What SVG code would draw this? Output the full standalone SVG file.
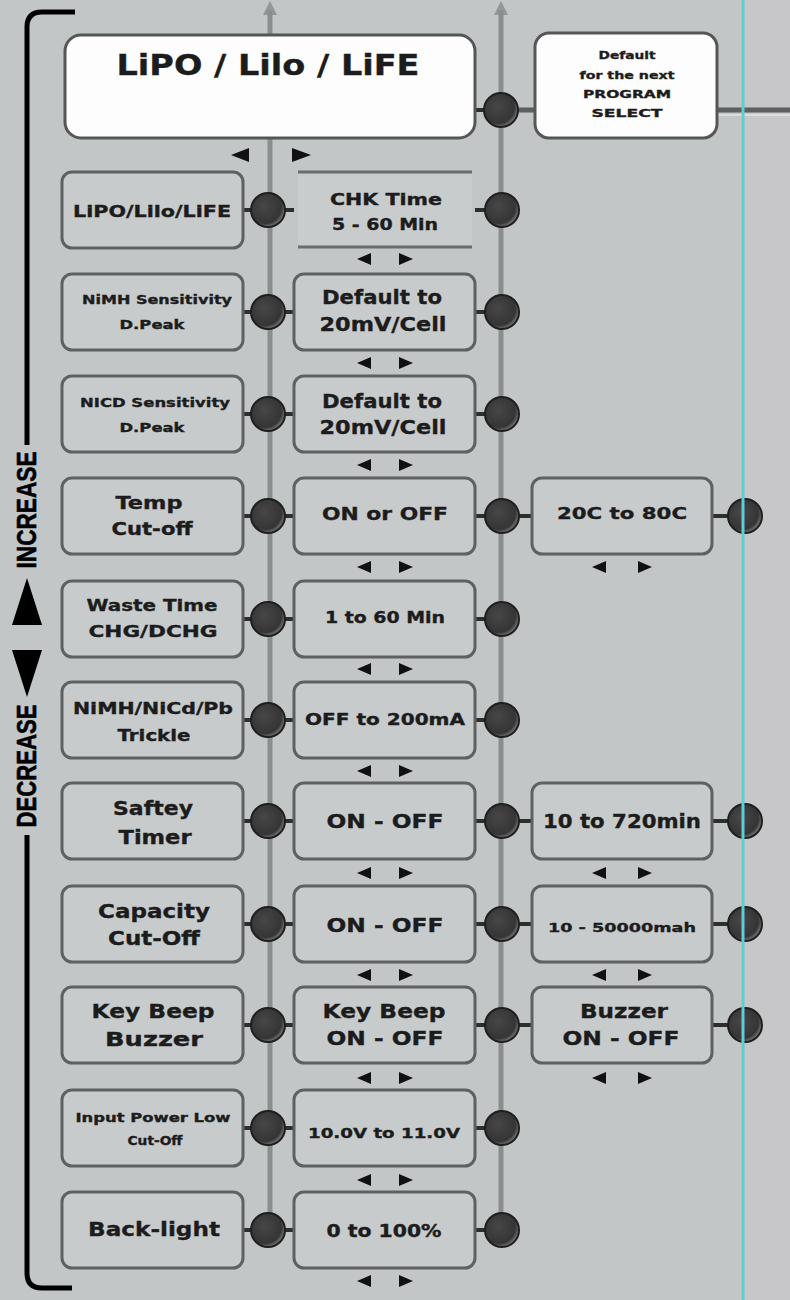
<svg xmlns="http://www.w3.org/2000/svg" width="790" height="1300" viewBox="0 0 790 1300">
<style>
.box{fill:#c8cbcc;stroke:#5e6061;stroke-width:3}
.wbox{fill:#fdfdfd;stroke:#555757;stroke-width:3}
.t{font-family:"DejaVu Sans","Liberation Sans",sans-serif;font-weight:bold;fill:#1c1c1c;stroke:#1c1c1c;stroke-width:0.35;text-anchor:middle}
.side{font-family:"Liberation Sans","DejaVu Sans",sans-serif;font-weight:bold;fill:#000;stroke:#000;stroke-width:0.6;text-anchor:middle}
.vline{stroke:#8b8e8f;stroke-width:5;fill:none}
.nub{stroke:#2e2e2e;stroke-width:4}
.jn{fill:url(#jg);stroke:#1f1f1f;stroke-width:2}
.ar{fill:#111}
</style>
<defs>
<radialGradient id="jg" cx="0.42" cy="0.42" r="0.62" fx="0.38" fy="0.38">
<stop offset="0" stop-color="#474747"/>
<stop offset="0.78" stop-color="#353535"/>
<stop offset="1" stop-color="#8a8a8a"/>
</radialGradient>
</defs>
<rect x="0" y="0" width="790" height="1300" fill="#c2c6c7"/>
<rect x="745" y="0" width="45" height="1300" fill="#c7c7ca"/>

<g id="bracket">
<path d="M75 12 H42 Q27 12 27 27 V445" fill="none" stroke="#000" stroke-width="5"/>
<path d="M27 835 V1273 Q27 1288 42 1288 H72" fill="none" stroke="#000" stroke-width="5"/>
<text class="side" font-size="28" textLength="117" lengthAdjust="spacingAndGlyphs" transform="translate(36,510) rotate(-90)">INCREASE</text>
<polygon points="27,578 12,625 42,625" fill="#000"/>
<polygon points="12,650 42,650 27,697" fill="#000"/>
<text class="side" font-size="28" textLength="123" lengthAdjust="spacingAndGlyphs" transform="translate(36,766) rotate(-90)">DECREASE</text>
</g>

<g id="connectors">
<line class="vline" x1="270" y1="10" x2="270" y2="1230"/>
<line class="vline" x1="501" y1="10" x2="501" y2="1230"/>
<polygon points="270,1 263,15 277,15" fill="#8b8e8f" opacity="0.85"/>
<polygon points="501,1 494,15 508,15" fill="#8b8e8f" opacity="0.85"/>
<line x1="518" y1="110" x2="790" y2="110" stroke="#5d5f60" stroke-width="5"/>
<line x1="717" y1="115" x2="790" y2="115" stroke="#e2e4e4" stroke-width="1.5"/>
<line class="nub" x1="475" y1="110" x2="485" y2="110"/>
<g>
<line class="nub" x1="243" y1="210" x2="252" y2="210"/><line class="nub" x1="284" y1="210" x2="294" y2="210"/><line class="nub" x1="475" y1="210" x2="486" y2="210"/>
<line class="nub" x1="243" y1="312" x2="252" y2="312"/><line class="nub" x1="284" y1="312" x2="294" y2="312"/><line class="nub" x1="475" y1="312" x2="486" y2="312"/>
<line class="nub" x1="243" y1="414" x2="252" y2="414"/><line class="nub" x1="284" y1="414" x2="294" y2="414"/><line class="nub" x1="475" y1="414" x2="486" y2="414"/>
<line class="nub" x1="243" y1="516" x2="252" y2="516"/><line class="nub" x1="284" y1="516" x2="294" y2="516"/><line class="nub" x1="475" y1="516" x2="486" y2="516"/><line class="nub" x1="516" y1="516" x2="532" y2="516"/><line class="nub" x1="712" y1="516" x2="730" y2="516"/>
<line class="nub" x1="243" y1="619" x2="252" y2="619"/><line class="nub" x1="284" y1="619" x2="294" y2="619"/><line class="nub" x1="475" y1="619" x2="486" y2="619"/>
<line class="nub" x1="243" y1="720" x2="252" y2="720"/><line class="nub" x1="284" y1="720" x2="294" y2="720"/><line class="nub" x1="475" y1="720" x2="486" y2="720"/>
<line class="nub" x1="243" y1="821" x2="252" y2="821"/><line class="nub" x1="284" y1="821" x2="294" y2="821"/><line class="nub" x1="475" y1="821" x2="486" y2="821"/><line class="nub" x1="516" y1="821" x2="532" y2="821"/><line class="nub" x1="712" y1="821" x2="730" y2="821"/>
<line class="nub" x1="243" y1="924" x2="252" y2="924"/><line class="nub" x1="284" y1="924" x2="294" y2="924"/><line class="nub" x1="475" y1="924" x2="486" y2="924"/><line class="nub" x1="516" y1="924" x2="532" y2="924"/><line class="nub" x1="712" y1="924" x2="730" y2="924"/>
<line class="nub" x1="243" y1="1025" x2="252" y2="1025"/><line class="nub" x1="284" y1="1025" x2="294" y2="1025"/><line class="nub" x1="475" y1="1025" x2="486" y2="1025"/><line class="nub" x1="516" y1="1025" x2="532" y2="1025"/><line class="nub" x1="712" y1="1025" x2="730" y2="1025"/>
<line class="nub" x1="243" y1="1128" x2="252" y2="1128"/><line class="nub" x1="284" y1="1128" x2="294" y2="1128"/><line class="nub" x1="475" y1="1128" x2="486" y2="1128"/>
<line class="nub" x1="243" y1="1230" x2="252" y2="1230"/><line class="nub" x1="284" y1="1230" x2="294" y2="1230"/><line class="nub" x1="475" y1="1230" x2="486" y2="1230"/>
</g>
</g>

<g id="junctions">
<circle class="jn" cx="501" cy="110" r="17"/>
<circle class="jn" cx="268" cy="210" r="17"/><circle class="jn" cx="502" cy="210" r="17"/>
<circle class="jn" cx="268" cy="312" r="17"/><circle class="jn" cx="502" cy="312" r="17"/>
<circle class="jn" cx="268" cy="414" r="17"/><circle class="jn" cx="502" cy="414" r="17"/>
<circle class="jn" cx="268" cy="516" r="17"/><circle class="jn" cx="502" cy="516" r="17"/><circle class="jn" cx="745" cy="516" r="17"/>
<circle class="jn" cx="268" cy="619" r="17"/><circle class="jn" cx="502" cy="619" r="17"/>
<circle class="jn" cx="268" cy="720" r="17"/><circle class="jn" cx="502" cy="720" r="17"/>
<circle class="jn" cx="268" cy="821" r="17"/><circle class="jn" cx="502" cy="821" r="17"/><circle class="jn" cx="745" cy="821" r="17"/>
<circle class="jn" cx="268" cy="924" r="17"/><circle class="jn" cx="502" cy="924" r="17"/><circle class="jn" cx="745" cy="924" r="17"/>
<circle class="jn" cx="268" cy="1025" r="17"/><circle class="jn" cx="502" cy="1025" r="17"/><circle class="jn" cx="745" cy="1025" r="17"/>
<circle class="jn" cx="268" cy="1128" r="17"/><circle class="jn" cx="502" cy="1128" r="17"/>
<circle class="jn" cx="268" cy="1230" r="17"/><circle class="jn" cx="502" cy="1230" r="17"/>
</g>

<line id="cyan-line" x1="743" y1="0" x2="743" y2="1300" stroke="#5fcdd4" stroke-width="3"/>

<g id="arrows">
<polygon class="ar" points="231,155 249,148 249,162"/><polygon class="ar" points="292,148 292,162 311,155"/>
<polygon class="ar" points="357,259 371,253 371,265"/><polygon class="ar" points="399,253 399,265 413,259"/>
<polygon class="ar" points="357,363 371,357 371,369"/><polygon class="ar" points="399,357 399,369 413,363"/>
<polygon class="ar" points="357,465 371,459 371,471"/><polygon class="ar" points="399,459 399,471 413,465"/>
<polygon class="ar" points="357,567 371,561 371,573"/><polygon class="ar" points="399,561 399,573 413,567"/>
<polygon class="ar" points="357,669 371,663 371,675"/><polygon class="ar" points="399,663 399,675 413,669"/>
<polygon class="ar" points="357,771 371,765 371,777"/><polygon class="ar" points="399,765 399,777 413,771"/>
<polygon class="ar" points="357,873 371,867 371,879"/><polygon class="ar" points="399,867 399,879 413,873"/>
<polygon class="ar" points="357,975 371,969 371,981"/><polygon class="ar" points="399,969 399,981 413,975"/>
<polygon class="ar" points="357,1078 371,1072 371,1084"/><polygon class="ar" points="399,1072 399,1084 413,1078"/>
<polygon class="ar" points="357,1180 371,1174 371,1186"/><polygon class="ar" points="399,1174 399,1186 413,1180"/>
<polygon class="ar" points="357,1281 371,1275 371,1287"/><polygon class="ar" points="399,1275 399,1287 413,1281"/>
<polygon class="ar" points="592,567 606,561 606,573"/><polygon class="ar" points="638,561 638,573 652,567"/>
<polygon class="ar" points="592,873 606,867 606,879"/><polygon class="ar" points="638,867 638,879 652,873"/>
<polygon class="ar" points="592,975 606,969 606,981"/><polygon class="ar" points="638,969 638,981 652,975"/>
<polygon class="ar" points="592,1078 606,1072 606,1084"/><polygon class="ar" points="638,1072 638,1084 652,1078"/>
</g>

<g id="node-main">
<rect class="wbox" x="65" y="35" width="410" height="103" rx="16"/>
<text class="t" x="268" y="75" font-size="29" textLength="303" lengthAdjust="spacingAndGlyphs">LiPO / Lilo / LiFE</text>
</g>
<g id="node-default">
<rect class="wbox" x="535" y="33" width="182" height="105" rx="14"/>
<text class="t" x="627" y="59" font-size="11" textLength="57" lengthAdjust="spacingAndGlyphs">Default</text>
<text class="t" x="627" y="79" font-size="11" textLength="95" lengthAdjust="spacingAndGlyphs">for the next</text>
<text class="t" x="627" y="98" font-size="11" textLength="88" lengthAdjust="spacingAndGlyphs">PROGRAM</text>
<text class="t" x="627" y="117" font-size="11" textLength="71" lengthAdjust="spacingAndGlyphs">SELECT</text>
</g>

<g id="node-lipo">
<rect class="box" x="62" y="172" width="181" height="76" rx="10"/>
<text class="t" x="152" y="217" font-size="16" textLength="158" lengthAdjust="spacingAndGlyphs">LiPO/Lilo/LiFE</text>
</g>
<g id="node-chk">
<rect x="298" y="172" width="174" height="75" fill="#c9cccd"/>
<line x1="298" y1="172" x2="472" y2="172" stroke="#6a6c6d" stroke-width="3"/>
<line x1="298" y1="247" x2="472" y2="247" stroke="#6a6c6d" stroke-width="3"/>
<text class="t" x="386" y="205" font-size="15" textLength="112" lengthAdjust="spacingAndGlyphs">CHK Time</text>
<text class="t" x="385" y="230" font-size="15" textLength="106" lengthAdjust="spacingAndGlyphs">5 - 60 Min</text>
</g>

<g id="node-nimh">
<rect class="box" x="62" y="274" width="181" height="76" rx="10"/>
<text class="t" x="157" y="303.5" font-size="12.5" textLength="150" lengthAdjust="spacingAndGlyphs">NiMH Sensitivity</text>
<text class="t" x="152" y="328.5" font-size="12.5" textLength="65" lengthAdjust="spacingAndGlyphs">D.Peak</text>
</g>
<g id="node-nimh-val">
<rect class="box" x="294" y="274" width="181" height="76" rx="10"/>
<text class="t" x="382" y="304" font-size="20" textLength="120" lengthAdjust="spacingAndGlyphs">Default to</text>
<text class="t" x="383" y="331" font-size="20" textLength="127" lengthAdjust="spacingAndGlyphs">20mV/Cell</text>
</g>

<g id="node-nicd">
<rect class="box" x="62" y="376" width="181" height="76" rx="10"/>
<text class="t" x="155" y="406.5" font-size="12.5" textLength="150" lengthAdjust="spacingAndGlyphs">NICD Sensitivity</text>
<text class="t" x="152" y="431.5" font-size="12.5" textLength="65" lengthAdjust="spacingAndGlyphs">D.Peak</text>
</g>
<g id="node-nicd-val">
<rect class="box" x="294" y="376" width="181" height="76" rx="10"/>
<text class="t" x="382" y="408" font-size="20" textLength="120" lengthAdjust="spacingAndGlyphs">Default to</text>
<text class="t" x="383" y="434" font-size="20" textLength="127" lengthAdjust="spacingAndGlyphs">20mV/Cell</text>
</g>

<g id="node-temp">
<rect class="box" x="62" y="478" width="181" height="76" rx="10"/>
<text class="t" x="149" y="509" font-size="17" textLength="67" lengthAdjust="spacingAndGlyphs">Temp</text>
<text class="t" x="152" y="535" font-size="17" textLength="81" lengthAdjust="spacingAndGlyphs">Cut-off</text>
</g>
<g id="node-temp-onoff">
<rect class="box" x="294" y="478" width="181" height="76" rx="10"/>
<text class="t" x="385" y="520" font-size="17" textLength="126" lengthAdjust="spacingAndGlyphs">ON or OFF</text>
</g>
<g id="node-temp-range">
<rect class="box" x="532" y="478" width="180" height="76" rx="10"/>
<text class="t" x="622" y="519" font-size="16" textLength="130" lengthAdjust="spacingAndGlyphs">20C to 80C</text>
</g>

<g id="node-waste">
<rect class="box" x="62" y="581" width="181" height="76" rx="10"/>
<text class="t" x="152" y="611" font-size="16" textLength="131" lengthAdjust="spacingAndGlyphs">Waste Time</text>
<text class="t" x="153" y="637" font-size="16" textLength="129" lengthAdjust="spacingAndGlyphs">CHG/DCHG</text>
</g>
<g id="node-waste-val">
<rect class="box" x="294" y="581" width="181" height="76" rx="10"/>
<text class="t" x="385" y="623" font-size="16" textLength="120" lengthAdjust="spacingAndGlyphs">1 to 60 Min</text>
</g>

<g id="node-trickle">
<rect class="box" x="62" y="682" width="181" height="76" rx="10"/>
<text class="t" x="153" y="713.5" font-size="15" textLength="160" lengthAdjust="spacingAndGlyphs">NiMH/NiCd/Pb</text>
<text class="t" x="154" y="740.5" font-size="15" textLength="73" lengthAdjust="spacingAndGlyphs">Trickle</text>
</g>
<g id="node-trickle-val">
<rect class="box" x="294" y="682" width="181" height="76" rx="10"/>
<text class="t" x="385" y="724.5" font-size="15" textLength="160" lengthAdjust="spacingAndGlyphs">OFF to 200mA</text>
</g>

<g id="node-safety">
<rect class="box" x="62" y="783" width="181" height="76" rx="10"/>
<text class="t" x="153" y="815" font-size="19" textLength="80" lengthAdjust="spacingAndGlyphs">Saftey</text>
<text class="t" x="155" y="844" font-size="19" textLength="73" lengthAdjust="spacingAndGlyphs">Timer</text>
</g>
<g id="node-safety-onoff">
<rect class="box" x="294" y="783" width="181" height="76" rx="10"/>
<text class="t" x="385" y="828" font-size="19" textLength="117" lengthAdjust="spacingAndGlyphs">ON - OFF</text>
</g>
<g id="node-safety-range">
<rect class="box" x="532" y="783" width="180" height="76" rx="10"/>
<text class="t" x="622" y="828" font-size="19" textLength="158" lengthAdjust="spacingAndGlyphs">10 to 720min</text>
</g>

<g id="node-capacity">
<rect class="box" x="62" y="886" width="181" height="76" rx="10"/>
<text class="t" x="154" y="918" font-size="19" textLength="112" lengthAdjust="spacingAndGlyphs">Capacity</text>
<text class="t" x="154" y="945" font-size="19" textLength="92" lengthAdjust="spacingAndGlyphs">Cut-Off</text>
</g>
<g id="node-capacity-onoff">
<rect class="box" x="294" y="886" width="181" height="76" rx="10"/>
<text class="t" x="385" y="932" font-size="19" textLength="117" lengthAdjust="spacingAndGlyphs">ON - OFF</text>
</g>
<g id="node-capacity-range">
<rect class="box" x="532" y="886" width="180" height="76" rx="10"/>
<text class="t" x="622" y="931.5" font-size="13" textLength="148" lengthAdjust="spacingAndGlyphs">10 - 50000mah</text>
</g>

<g id="node-keybeep">
<rect class="box" x="62" y="987" width="181" height="76" rx="10"/>
<text class="t" x="153" y="1018" font-size="19" textLength="123" lengthAdjust="spacingAndGlyphs">Key Beep</text>
<text class="t" x="154" y="1046" font-size="19" textLength="98" lengthAdjust="spacingAndGlyphs">Buzzer</text>
</g>
<g id="node-keybeep-onoff">
<rect class="box" x="294" y="987" width="181" height="76" rx="10"/>
<text class="t" x="384" y="1018" font-size="19" textLength="123" lengthAdjust="spacingAndGlyphs">Key Beep</text>
<text class="t" x="385" y="1045" font-size="19" textLength="117" lengthAdjust="spacingAndGlyphs">ON - OFF</text>
</g>
<g id="node-buzzer-onoff">
<rect class="box" x="532" y="987" width="180" height="76" rx="10"/>
<text class="t" x="624" y="1018" font-size="19" textLength="88" lengthAdjust="spacingAndGlyphs">Buzzer</text>
<text class="t" x="621" y="1045" font-size="19" textLength="117" lengthAdjust="spacingAndGlyphs">ON - OFF</text>
</g>

<g id="node-input">
<rect class="box" x="62" y="1090" width="181" height="76" rx="10"/>
<text class="t" x="153" y="1122" font-size="11.5" textLength="155" lengthAdjust="spacingAndGlyphs">Input Power Low</text>
<text class="t" x="155" y="1145" font-size="11.5" textLength="55" lengthAdjust="spacingAndGlyphs">Cut-Off</text>
</g>
<g id="node-input-val">
<rect class="box" x="294" y="1090" width="181" height="76" rx="10"/>
<text class="t" x="384" y="1138" font-size="14" textLength="152" lengthAdjust="spacingAndGlyphs">10.0V to 11.0V</text>
</g>

<g id="node-backlight">
<rect class="box" x="62" y="1192" width="181" height="76" rx="10"/>
<text class="t" x="154" y="1236" font-size="20" textLength="132" lengthAdjust="spacingAndGlyphs">Back-light</text>
</g>
<g id="node-backlight-val">
<rect class="box" x="294" y="1192" width="181" height="76" rx="10"/>
<text class="t" x="384" y="1237" font-size="17" textLength="115" lengthAdjust="spacingAndGlyphs">0 to 100%</text>
</g>
</svg>
